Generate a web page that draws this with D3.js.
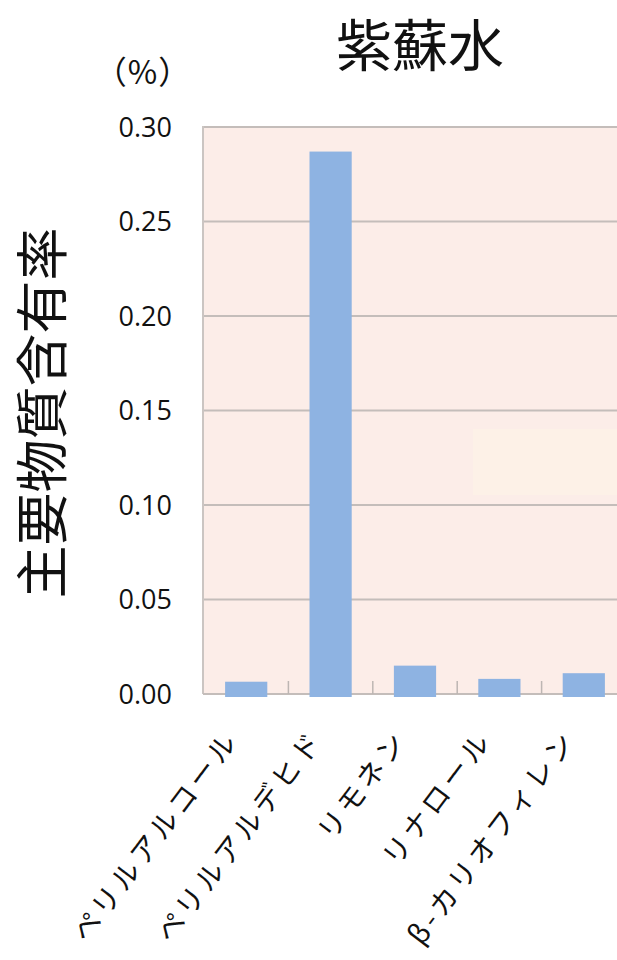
<!DOCTYPE html>
<html>
<head>
<meta charset="utf-8">
<script src="https://cdn.jsdelivr.net/npm/d3@7"></script>
<style>
  html, body { margin: 0; padding: 0; background: #ffffff; }
  svg { display: block; }
</style>
</head>
<body>
<script>
// Main constituents of shiso water (%)
const categories = ["ペリルアルコール", "ペリルアルデヒド", "リモネン", "リナロール", "β-カリオフィレン"];
const values = [0.0065, 0.287, 0.015, 0.008, 0.011];
const yTicks = [0, 0.05, 0.10, 0.15, 0.20, 0.25, 0.30];
const title = "紫蘇水";
const yTitle = "主要物質含有率";
const unitLabel = "（%）";

const W = 617, H = 960;
const plot = { left: 203, top: 127, right: 626, bottom: 694 };

const svg = d3.select("body").append("svg").attr("width", W).attr("height", H);

const x = d3.scaleBand().domain(categories)
  .range([plot.left + 1, plot.right])
  .paddingInner(0.5).paddingOuter(0.25);
const y = d3.scaleLinear().domain([0, 0.30]).range([plot.bottom, plot.top]);

// plot background
svg.append("rect")
  .attr("x", plot.left).attr("y", plot.top)
  .attr("width", plot.right - plot.left).attr("height", plot.bottom - plot.top)
  .attr("fill", "#fcede8");
// faint lighter patch inside the plot area
svg.append("rect")
  .attr("x", 473).attr("y", 429).attr("width", W - 473).attr("height", 66)
  .attr("fill", "#fdf1e7");

// horizontal gridlines
svg.append("g").selectAll("line").data(yTicks.filter(d => d > 0)).join("line")
  .attr("x1", plot.left).attr("x2", plot.right)
  .attr("y1", d => y(d)).attr("y2", d => y(d))
  .attr("stroke", "#c4bdba").attr("stroke-width", 2);

// left border of the plot area
svg.append("line")
  .attr("x1", plot.left).attr("x2", plot.left)
  .attr("y1", plot.top - 1).attr("y2", plot.bottom)
  .attr("stroke", "#cbc5c2").attr("stroke-width", 2);

// category axis line with inward tick marks between categories
svg.append("line")
  .attr("x1", plot.left).attr("x2", plot.right)
  .attr("y1", plot.bottom).attr("y2", plot.bottom)
  .attr("stroke", "#c4bdba").attr("stroke-width", 2);
const step = x.step();
svg.append("g").selectAll("line").data(categories.slice(1)).join("line")
  .attr("x1", d => x(d) - step * 0.25).attr("x2", d => x(d) - step * 0.25)
  .attr("y1", plot.bottom).attr("y2", plot.bottom - 13)
  .attr("stroke", "#bdb6b3").attr("stroke-width", 1.5);

// bars
svg.append("g").selectAll("rect").data(values).join("rect")
  .attr("x", (d, i) => x(categories[i]))
  .attr("width", x.bandwidth())
  .attr("y", d => y(d))
  .attr("height", d => y(0) - y(d) + 3)
  .attr("fill", "#8eb3e2");

// value axis labels
const yAxis = d3.axisLeft(y).tickValues(yTicks).tickFormat(d3.format(".2f")).tickSize(0).tickPadding(0);
const ya = svg.append("g").attr("transform", `translate(172,0)`).call(yAxis);
ya.select(".domain").remove();
ya.selectAll("text")
  .attr("font-family", "'Open Sans', sans-serif")
  .attr("font-size", 27).attr("fill", "#111").attr("dy", "0.35em");

// category labels, rotated
svg.append("g").selectAll("text").data(categories).join("text")
  .attr("transform", d => `translate(${x(d) + x.bandwidth() / 2 - 6},740) rotate(-53)`)
  .attr("text-anchor", "end")
  .attr("font-family", "'Noto Sans CJK JP', sans-serif")
  .attr("font-size", 28).attr("letter-spacing", 4)
  .attr("fill", "#111")
  .text(d => d);

// title
svg.append("text")
  .attr("x", 420).attr("y", 66)
  .attr("text-anchor", "middle")
  .attr("font-family", "'Noto Sans CJK JP', sans-serif")
  .attr("font-size", 56).attr("fill", "#111")
  .text(title);

// unit
svg.append("text")
  .attr("x", 143).attr("y", 84)
  .attr("text-anchor", "middle")
  .attr("font-family", "'Noto Sans CJK JP', sans-serif")
  .attr("font-size", 32).attr("letter-spacing", 1).attr("fill", "#111")
  .text(unitLabel);

// value axis title
svg.append("text")
  .attr("transform", `translate(62,413) rotate(-90)`)
  .attr("text-anchor", "middle")
  .attr("font-family", "'Noto Sans CJK JP', sans-serif")
  .attr("font-size", 53).attr("fill", "#111")
  .text(yTitle);
</script>
</body>
</html>
